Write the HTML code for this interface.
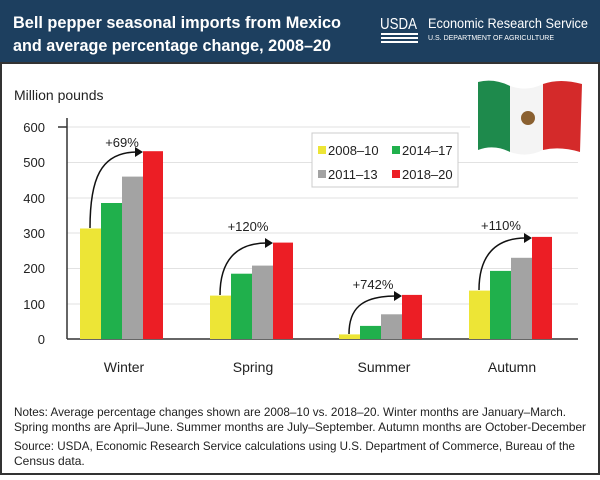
<!DOCTYPE html>
<html><head><meta charset="utf-8"><style>
body{margin:0;width:600px;height:475px;overflow:hidden;background:#fff;font-family:"Liberation Sans",sans-serif}
</style></head><body>
<svg width="600" height="475" viewBox="0 0 600 475" xmlns="http://www.w3.org/2000/svg" font-family="Liberation Sans, sans-serif">
<rect x="0" y="0" width="600" height="475" fill="#fff"/>
<rect x="0" y="0" width="600" height="63" fill="#1d3f5f"/>
<text x="13" y="28" fill="#fff" font-size="17" font-weight="bold" textLength="328" lengthAdjust="spacingAndGlyphs">Bell pepper seasonal imports from Mexico</text>
<text x="13" y="51" fill="#fff" font-size="17" font-weight="bold" textLength="318" lengthAdjust="spacingAndGlyphs">and average percentage change, 2008–20</text>
<text x="380" y="29" fill="#fff" font-size="16" textLength="37" lengthAdjust="spacingAndGlyphs">USDA</text>
<rect x="381" y="33" width="37" height="2" fill="#fff"/><rect x="381" y="37" width="37" height="2" fill="#fff"/><rect x="381" y="41" width="37" height="2" fill="#fff"/>
<text x="428" y="28" fill="#fff" font-size="14" textLength="160" lengthAdjust="spacingAndGlyphs">Economic Research Service</text>
<text x="428" y="40" fill="#fff" font-size="7" textLength="126" lengthAdjust="spacingAndGlyphs">U.S. DEPARTMENT OF AGRICULTURE</text>
<rect x="1" y="63" width="598" height="411" fill="none" stroke="#333" stroke-width="2"/>
<text x="14" y="100" font-size="14" fill="#222">Million pounds</text>
<g stroke="#e2e2e2" stroke-width="1">
<line x1="67" x2="578" y1="127" y2="127"/><line x1="67" x2="578" y1="162.5" y2="162.5"/><line x1="67" x2="578" y1="198" y2="198"/><line x1="67" x2="578" y1="233" y2="233"/><line x1="67" x2="578" y1="268.5" y2="268.5"/><line x1="67" x2="578" y1="304" y2="304"/>
</g>
<rect x="470" y="76" width="115" height="82" fill="#fff"/>
<path d="M478 82 Q494 78 510 86 L510 152 Q494 144 478 150Z" fill="#1e8a4c"/>
<path d="M510 86 Q527 92 543 84 L543 150 Q527 158 510 152Z" fill="#f4f4f4"/>
<path d="M543 84 Q560 78 582 84 L580 152 Q560 146 543 150Z" fill="#d42a2a"/>
<circle cx="528" cy="118" r="7" fill="#8a6030"/>
<g font-size="13" fill="#222" text-anchor="end">
<text x="45" y="132">600</text><text x="45" y="167">500</text><text x="45" y="203">400</text><text x="45" y="238">300</text><text x="45" y="273">200</text><text x="45" y="309">100</text><text x="45" y="344">0</text>
</g>
<line x1="67" y1="118" x2="67" y2="339" stroke="#333" stroke-width="1.5"/>
<line x1="58" y1="127" x2="67" y2="127" stroke="#333" stroke-width="1.5"/>
<line x1="67" y1="339" x2="578" y2="339" stroke="#333" stroke-width="1.5"/>
<g>
<rect x="80" y="228.5" width="21" height="110.5" fill="#ede536"/><rect x="101" y="203" width="21" height="136" fill="#20b04c"/><rect x="122" y="176.6" width="21" height="162.4" fill="#a3a3a3"/><rect x="143" y="151.2" width="20" height="187.8" fill="#ec1e25"/>
<rect x="210" y="295.6" width="21" height="43.4" fill="#ede536"/><rect x="231" y="273.7" width="21" height="65.3" fill="#20b04c"/><rect x="252" y="265.6" width="21" height="73.4" fill="#a3a3a3"/><rect x="273" y="242.6" width="20" height="96.4" fill="#ec1e25"/>
<rect x="339" y="334.4" width="21" height="4.6" fill="#ede536"/><rect x="360" y="325.9" width="21" height="13.1" fill="#20b04c"/><rect x="381" y="314.3" width="21" height="24.7" fill="#a3a3a3"/><rect x="402" y="294.9" width="20" height="44.1" fill="#ec1e25"/>
<rect x="469" y="290.6" width="21" height="48.4" fill="#ede536"/><rect x="490" y="270.9" width="21" height="68.1" fill="#20b04c"/><rect x="511" y="257.8" width="21" height="81.2" fill="#a3a3a3"/><rect x="532" y="236.9" width="20" height="102.1" fill="#ec1e25"/>
</g>
<g fill="none" stroke="#111" stroke-width="1.5">
<path d="M90 228 C90 180 100 152 137 152"/>
<path d="M220 295 C220 262 235 243 267 243"/>
<path d="M349 334 C349 310 360 296 396 296"/>
<path d="M479 290 C479 262 490 238 526 238"/>
</g>
<g fill="#111">
<path d="M143 152 L135 147 L135 157Z"/><path d="M273 243 L265 238 L265 248Z"/><path d="M402 296 L394 291 L394 301Z"/><path d="M532 238 L524 233 L524 243Z"/>
</g>
<g font-size="13" fill="#222" text-anchor="middle">
<text x="122" y="147">+69%</text><text x="248" y="231">+120%</text><text x="373" y="289">+742%</text><text x="501" y="230">+110%</text>
</g>
<rect x="312" y="133" width="146" height="54" fill="#fff" stroke="#ccc"/>
<g font-size="13" fill="#222">
<rect x="318" y="146" width="8" height="8" fill="#ede536"/><text x="328" y="155">2008–10</text>
<rect x="392" y="146" width="8" height="8" fill="#20b04c"/><text x="402" y="155">2014–17</text>
<rect x="318" y="170" width="8" height="8" fill="#a3a3a3"/><text x="328" y="179">2011–13</text>
<rect x="392" y="170" width="8" height="8" fill="#ec1e25"/><text x="402" y="179">2018–20</text>
</g>
<g font-size="14" fill="#222" text-anchor="middle">
<text x="124" y="372">Winter</text><text x="253" y="372">Spring</text><text x="384" y="372">Summer</text><text x="512" y="372">Autumn</text>
</g>
<g font-size="12" fill="#222">
<text x="14" y="416" textLength="552" lengthAdjust="spacingAndGlyphs">Notes: Average percentage changes shown are 2008–10 vs. 2018–20. Winter months are January–March.</text>
<text x="14" y="431" textLength="572" lengthAdjust="spacingAndGlyphs">Spring months are April–June. Summer months are July–September. Autumn months are October-December</text>
<text x="14" y="450" textLength="561" lengthAdjust="spacingAndGlyphs">Source: USDA, Economic Research Service calculations using U.S. Department of Commerce, Bureau of the</text>
<text x="14" y="465">Census data.</text>
</g>
</svg>
</body></html>
